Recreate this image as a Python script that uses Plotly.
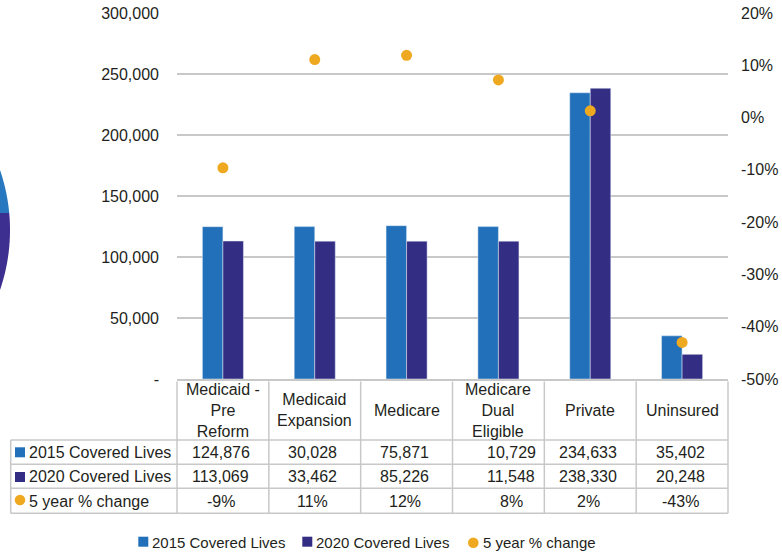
import math

import plotly.graph_objects as go

# ---- data -------------------------------------------------------------
categories = [
    "Medicaid - Pre Reform", "Medicaid Expansion", "Medicare",
    "Medicare Dual Eligible", "Private", "Uninsured",
]
header_labels = [
    "Medicaid -<br>Pre<br>Reform", "Medicaid<br>Expansion", "Medicare",
    "Medicare<br>Dual<br>Eligible", "Private", "Uninsured",
]
# bar heights as drawn in the chart
bars_2015 = [124876, 124900, 125700, 124900, 234633, 35402]
bars_2020 = [113069, 113000, 113000, 113000, 238330, 20248]
# dots as drawn (right axis, %)
pct_points = [-9.6, 11.1, 11.9, 7.2, 1.3, -43.0]

# data table text
table_2015 = ["124,876", "30,028", "75,871", "10,729", "234,633", "35,402"]
table_2020 = ["113,069", "33,462", "85,226", "11,548", "238,330", "20,248"]
table_pct = ["-9%", "11%", "12%", "8%", "2%", "-43%"]
row_names = ["2015 Covered Lives", "2020 Covered Lives", "5 year % change"]

left_tick_vals = [0, 50000, 100000, 150000, 200000, 250000, 300000]
left_tick_text = ["-", "50,000", "100,000", "150,000", "200,000", "250,000", "300,000"]
right_tick_vals = [20, 10, 0, -10, -20, -30, -40, -50]
right_tick_text = ["20%", "10%", "0%", "-10%", "-20%", "-30%", "-40%", "-50%"]

BLUE = "#2270b9"
PURPLE = "#332d83"
ORANGE = "#efa921"
GRID = "#c8c8c8"
TEXT = "#231f20"
FONT = "Liberation Sans"

W, H = 782, 554
ML, MR, MT, MB = 177, 54, 13, 175
PW, PH = W - ML - MR, H - MT - MB


def px(x):
    return (x - ML) / PW


def py(y):
    return (H - MB - y) / PH


fig = go.Figure()
fig.add_trace(go.Bar(x=categories, y=bars_2015, name=row_names[0], marker_color=BLUE))
fig.add_trace(go.Bar(x=categories, y=bars_2020, name=row_names[1], marker_color=PURPLE))
fig.add_trace(go.Scatter(
    x=categories, y=pct_points, name=row_names[2], yaxis="y2", mode="markers",
    marker=dict(size=11, color=ORANGE),
))

shapes = []
annotations = []

# ---- data table under the plot ---------------------------------------
line = dict(color=GRID, width=1.5)
row_lines = [440, 464.3, 488.3, 513.3]
for k in range(7):
    shapes.append(dict(type="line", xref="paper", yref="paper", x0=k / 6, x1=k / 6,
                       y0=py(381.5), y1=py(513.3), line=line))
shapes.append(dict(type="line", xref="paper", yref="paper", x0=px(10.7), x1=px(10.7),
                   y0=py(440), y1=py(513.3), line=line))
for yl in row_lines:
    shapes.append(dict(type="line", xref="paper", yref="paper", x0=px(10.7), x1=1,
                       y0=py(yl), y1=py(yl), line=line))

for cat, lab in zip(categories, header_labels):
    annotations.append(dict(x=cat, xref="x", y=py(410), yref="paper", text=lab,
                            showarrow=False, font=dict(size=16, color=TEXT),
                            xanchor="center", yanchor="middle", align="center"))

row_centers = [452.2, 476.3, 501]
for rc, vals in zip(row_centers, [table_2015, table_2020, table_pct]):
    for i, (cat, v) in enumerate(zip(categories, vals)):
        annotations.append(dict(x=cat, xref="x", y=py(rc), yref="paper", text=v,
                                showarrow=False, font=dict(size=16, color=TEXT),
                                xanchor="center", yanchor="middle",
                                xshift=13 if i == 3 else -2))

for rc, name in zip(row_centers, row_names):
    annotations.append(dict(x=px(27), xref="paper", y=py(rc), yref="paper", text=name,
                            showarrow=False, font=dict(size=16, color=TEXT),
                            xanchor="left", yanchor="middle"))
shapes.append(dict(type="rect", xref="paper", yref="paper", x0=px(15), x1=px(25),
                   y0=py(457.3), y1=py(447.3), line_width=0, fillcolor=BLUE))
shapes.append(dict(type="rect", xref="paper", yref="paper", x0=px(15), x1=px(25),
                   y0=py(482), y1=py(472), line_width=0, fillcolor=PURPLE))
shapes.append(dict(type="circle", xref="paper", yref="paper", x0=px(14.7), x1=px(25.3),
                   y0=py(505.3), y1=py(494.7), line_width=0, fillcolor=ORANGE))

# ---- legend at the bottom --------------------------------------------
shapes.append(dict(type="rect", xref="paper", yref="paper", x0=px(138.3), x1=px(148.3),
                   y0=py(546.7), y1=py(536.7), line_width=0, fillcolor=BLUE))
shapes.append(dict(type="rect", xref="paper", yref="paper", x0=px(302.3), x1=px(312.3),
                   y0=py(546.7), y1=py(536.7), line_width=0, fillcolor=PURPLE))
shapes.append(dict(type="circle", xref="paper", yref="paper", x0=px(468), x1=px(478.6),
                   y0=py(548), y1=py(537.4), line_width=0, fillcolor=ORANGE))
for x0, name in zip([150, 313.5], row_names[:2]):
    annotations.append(dict(x=px(x0), xref="paper", y=py(542), yref="paper", text=name,
                            showarrow=False, font=dict(size=15, color=TEXT),
                            xanchor="left", yanchor="middle"))
annotations.append(dict(x=px(480.5), xref="paper", y=py(542), yref="paper", text=row_names[2],
                        showarrow=False, font=dict(size=15, color=TEXT),
                        xanchor="left", yanchor="middle"))


# ---- cropped edge of a neighbouring pie on the left -------------------
def arc_path(a0, a1, cx=-175, cy=230, r=185, close_y=213):
    pts = []
    n = 30
    for j in range(n + 1):
        a = math.radians(a0 + (a1 - a0) * j / n)
        pts.append((cx + r * math.cos(a), cy + r * math.sin(a)))
    pts.append((-20, close_y))
    return "M " + " L ".join(f"{px(x):.5f},{py(y):.5f}" for x, y in pts) + " Z"


shapes.append(dict(type="path", xref="paper", yref="paper", path=arc_path(-25, -5.27),
                   fillcolor="#2878c0", line_width=0, layer="below"))
shapes.append(dict(type="path", xref="paper", yref="paper", path=arc_path(-5.27, 25),
                   fillcolor="#3d2f8f", line_width=0, layer="below"))

fig.update_layout(
    width=W, height=H,
    margin=dict(l=ML, r=MR, t=MT, b=MB, autoexpand=False),
    paper_bgcolor="white", plot_bgcolor="white",
    font=dict(family=FONT, size=16, color=TEXT),
    showlegend=False,
    barmode="group", bargap=0.553, bargroupgap=0,
    shapes=shapes, annotations=annotations,
    xaxis=dict(showticklabels=False, showgrid=False, ticks="", showline=True,
               linecolor=GRID, linewidth=1.5, zeroline=False, automargin=False),
    yaxis=dict(range=[0, 300000], tickvals=left_tick_vals, ticktext=left_tick_text,
               showgrid=True, gridcolor=GRID, gridwidth=1.5, zeroline=False,
               ticks="", ticklabelstandoff=17, tickfont=dict(size=16, color=TEXT),
               automargin=False),
    yaxis2=dict(range=[-50, 20], overlaying="y", side="right", tickvals=right_tick_vals,
                ticktext=right_tick_text, showgrid=False, zeroline=False, ticks="",
                ticklabelstandoff=12, tickfont=dict(size=16, color=TEXT),
                automargin=False),
)

# the page's default 8px body margin would shift the figure off the window
fig.write_html("out.html", config={"displayModeBar": False},
               post_script="document.body.style.margin = '0px';")
